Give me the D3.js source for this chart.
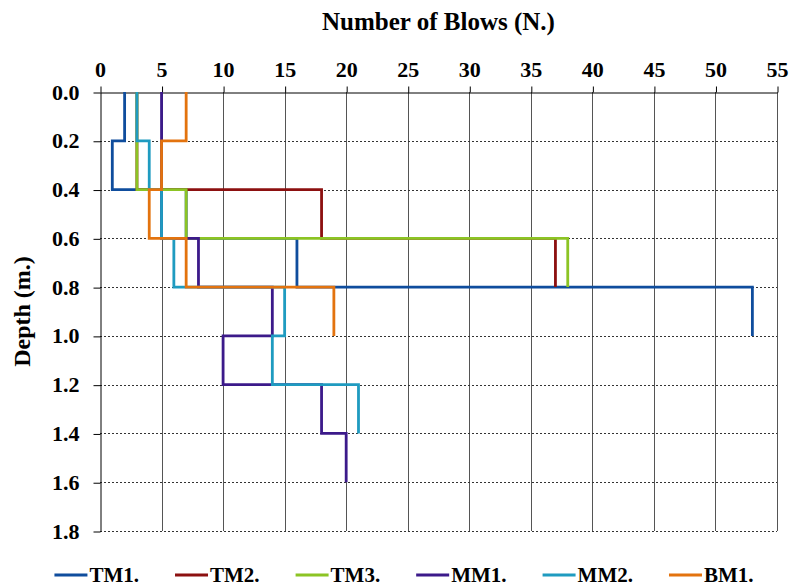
<!DOCTYPE html>
<html>
<head>
<meta charset="utf-8">
<script src="https://cdn.jsdelivr.net/npm/d3@7"></script>
<style>
  html, body { margin: 0; padding: 0; background: #fff; }
  svg { display: block; }
  svg text { font-family: "Liberation Serif", "Times New Roman", serif; font-weight: bold; fill: #000; }
</style>
</head>
<body>
<svg id="chart" width="790" height="587"></svg>
<script>
// Blow counts per 0.2 m depth interval, listed from the surface down
const step = 0.2;
const seriesNames = ["TM1.", "TM2.", "TM3.", "MM1.", "MM2.", "BM1."];
const TM1 = [2, 1, 7, 16, 53];
const TM2 = [3, 3, 18, 37];
const TM3 = [3, 3, 7, 38];
const MM1 = [5, 5, 5, 8, 14, 10, 18, 20];
const MM2 = [3, 4, 5, 6, 15, 14, 21];
const BM1 = [7, 5, 4, 7, 19];
const seriesColors = ["#0f4d9d", "#8c1010", "#8cc424", "#3c1a8a", "#1f9bc0", "#e3730e"];

const blowTicks = [0, 5, 10, 15, 20, 25, 30, 35, 40, 45, 50, 55];
const depthTicks = [0, 0.2, 0.4, 0.6, 0.8, 1.0, 1.2, 1.4, 1.6, 1.8];

const allSeries = [TM1, TM2, TM3, MM1, MM2, BM1];

const margin = { left: 100, top: 92, right: 13, bottom: 56 };
const W = 790, H = 587;
const svg = d3.select("#chart");

const x = d3.scaleLinear().domain([0, 55]).range([margin.left, W - margin.right]);
const y = d3.scaleLinear().domain([0, 1.8]).range([margin.top, H - margin.bottom]);

// grid: solid verticals, dashed horizontals
const grid = svg.append("g");
grid.selectAll("line.v").data(blowTicks.slice(1)).join("line")
  .attr("x1", d => Math.round(x(d)) + 0.5).attr("x2", d => Math.round(x(d)) + 0.5)
  .attr("y1", y(0)).attr("y2", y(1.8))
  .attr("stroke", "#555").attr("stroke-width", 1);
grid.selectAll("line.h").data(depthTicks.slice(1)).join("line")
  .attr("x1", x(0)).attr("x2", x(55))
  .attr("y1", d => Math.round(y(d)) + 0.5).attr("y2", d => Math.round(y(d)) + 0.5)
  .attr("stroke", "#333").attr("stroke-width", 1).attr("stroke-dasharray", "2,2");

// top (blows) axis
const xAxis = d3.axisTop(x).tickValues(blowTicks).tickSize(6).tickSizeOuter(0).tickPadding(10)
  .tickFormat(d3.format("d"));
const gx = svg.append("g").attr("transform", `translate(0,${Math.round(y(0)) + 0.5})`).call(xAxis);
gx.attr("font-family", null).attr("font-size", null);
gx.select(".domain").attr("stroke", "#000");
gx.selectAll(".tick line").attr("stroke", "#000").attr("transform", "translate(0.5,0)");
gx.selectAll("text").style("font-size", "22px");

// left (depth) axis
const yAxis = d3.axisLeft(y).tickValues(depthTicks).tickSize(7).tickSizeOuter(0).tickPadding(14)
  .tickFormat(d3.format(".1f"));
const gy = svg.append("g").attr("transform", `translate(${Math.round(x(0)) + 0.5},0)`).call(yAxis);
gy.attr("font-family", null).attr("font-size", null);
gy.select(".domain").attr("stroke", "#000");
gy.selectAll(".tick line").attr("stroke", "#000").attr("transform", "translate(0,0.5)");
gy.selectAll("text").style("font-size", "22px");

// titles
svg.append("text").attr("x", (x(0) + x(55)) / 2).attr("y", 30).attr("text-anchor", "middle")
  .style("font-size", "25px").text("Number of Blows (N.)");
svg.append("text").attr("transform", `translate(30,${(y(0) + y(1.8)) / 2}) rotate(-90)`)
  .attr("text-anchor", "middle").style("font-size", "24px").text("Depth (m.)");

// step profiles: each blow count holds over its 0.2 m interval
const line = d3.line().x(d => x(d[0])).y(d => y(d[1]));
function profile(vals) {
  const pts = [];
  vals.forEach((v, i) => { pts.push([v, i * step]); pts.push([v, (i + 1) * step]); });
  return pts;
}
const plot = svg.append("g");
allSeries.forEach((vals, i) => {
  plot.append("path").attr("d", line(profile(vals)))
    .attr("fill", "none").attr("stroke", seriesColors[i]).attr("stroke-width", 2.8)
    .attr("stroke-linejoin", "miter").attr("stroke-linecap", "butt");
});

// legend along the bottom
const legend = svg.append("g");
const legY = 575;
const gap = 36;
let cursor = 0;
const items = seriesNames.map((name, i) => {
  const g = legend.append("g");
  g.append("line").attr("x1", 0).attr("x2", 33).attr("y1", 0).attr("y2", 0)
    .attr("stroke", seriesColors[i]).attr("stroke-width", 3);
  const t = g.append("text").attr("x", 35).attr("y", 7).style("font-size", "21px").text(name);
  const w = 35 + t.node().getComputedTextLength();
  const item = { g, w, start: cursor };
  cursor += w + gap;
  return item;
});
const total = cursor - gap;
const offset = 404 - total / 2;
items.forEach(it => it.g.attr("transform", `translate(${offset + it.start},${legY})`));
</script>
</body>
</html>
